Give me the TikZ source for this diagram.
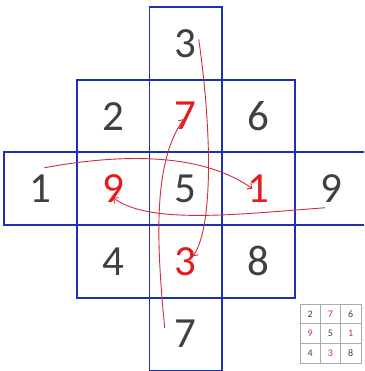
\documentclass[tikz,border=0pt]{standalone}
\usepackage{fontspec}
\setmainfont{Carlito}
\usetikzlibrary{arrows.meta,calc}
\definecolor{boxblue}{RGB}{28,48,180}
\definecolor{dig}{RGB}{64,64,64}
\definecolor{reddig}{RGB}{228,28,30}
\definecolor{arrred}{RGB}{205,45,60}
\definecolor{tgray}{RGB}{165,170,180}
\definecolor{tred}{RGB}{190,50,60}
\begin{document}
\begin{tikzpicture}[x=1pt,y=-1pt,
  cell/.style={draw=boxblue,line width=1.8pt,minimum width=72.7pt,minimum height=72.7pt,inner sep=0pt,
    font=\fontsize{43}{43}\selectfont,text=dig},
  redcell/.style={cell,text=reddig},
  sq/.style={draw=tgray,line width=0.5pt,minimum width=20.3pt,minimum height=19.7pt,inner sep=0pt,
    font=\fontsize{10}{10}\selectfont,text=dig},
  redsq/.style={sq,text=tred},
  flow/.style={draw=arrred,line width=0.9pt,-{Straight Barb[length=4pt,width=7pt]}}]
\useasboundingbox (0,0) rectangle (364,371);
\clip (0,0) rectangle (364,371);
% row 0
\node[cell] (c02) at (185.75,43.35) {3};
% row 1
\node[cell] (c11) at (113.05,116.05) {2};
\node[redcell] (c12) at (185.75,116.05) {7};
\node[cell] (c13) at (258.45,116.05) {6};
% row 2
\node[cell] (c20) at (40.35,188.75) {1};
\node[redcell] (c21) at (113.05,188.75) {9};
\node[cell] (c22) at (185.75,188.75) {5};
\node[redcell] (c23) at (258.45,188.75) {1};
\node[cell] (c24) at (331.15,188.75) {9};
% row 3
\node[cell] (c31) at (113.05,261.45) {4};
\node[redcell] (c32) at (185.75,261.45) {3};
\node[cell] (c33) at (258.45,261.45) {8};
% row 4
\node[cell] (c42) at (185.75,334.15) {7};
% arrows
\draw[flow] ($(c20)+(4,-21)$) .. controls (130,152) and (205,155) .. ($(c23)+(-6,0)$);
\draw[flow] ($(c24)+(-6,19)$) .. controls (240,214) and (150,225) .. ($(c21)+(0,9)$);
\draw[flow] ($(c02)+(13,-4)$) .. controls (213,140) and (212,230) .. ($(c32)+(7,-5)$);
\draw[flow] ($(c42)+(-21,-6)$) .. controls (155,230) and (155,160) .. ($(c12)+(-2,3)$);
% small table
\node[sq] (s00) at (310.15,313.85) {2};
\node[redsq] (s01) at (330.45,313.85) {7};
\node[sq] (s02) at (350.75,313.85) {6};
\node[redsq] (s10) at (310.15,333.55) {9};
\node[sq] (s11) at (330.45,333.55) {5};
\node[redsq] (s12) at (350.75,333.55) {1};
\node[sq] (s20) at (310.15,353.25) {4};
\node[redsq] (s21) at (330.45,353.25) {3};
\node[sq] (s22) at (350.75,353.25) {8};
\end{tikzpicture}
\end{document}
